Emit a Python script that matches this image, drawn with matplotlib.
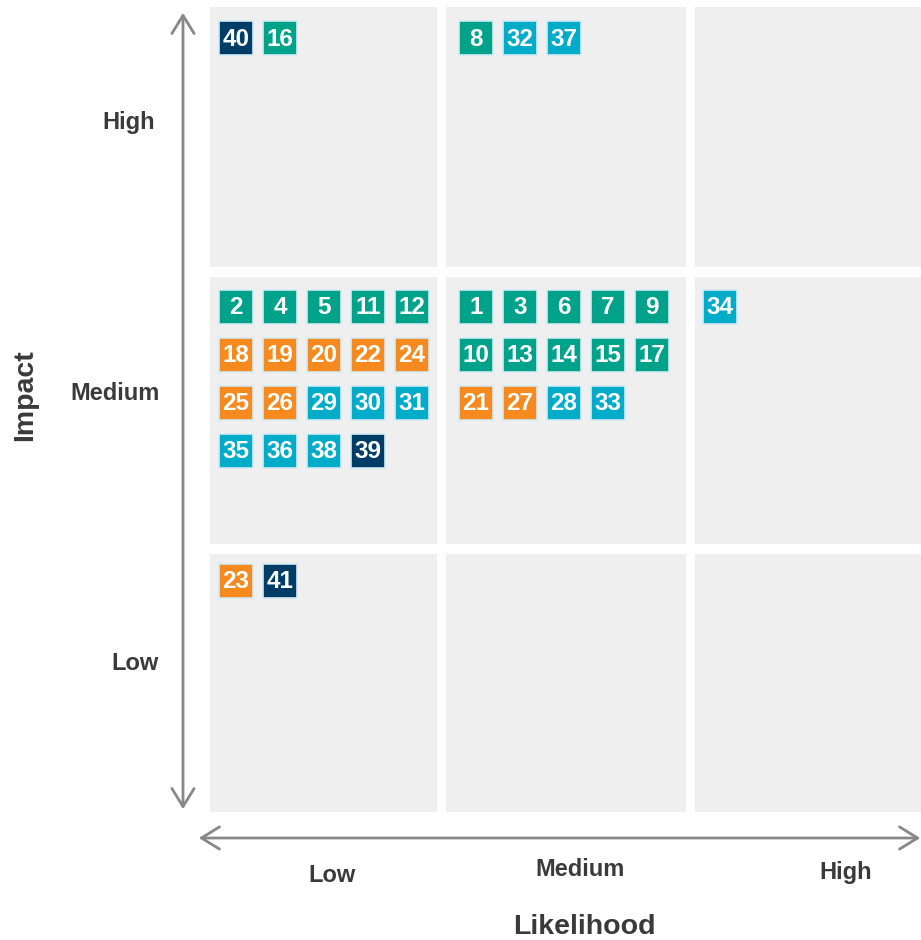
import matplotlib
matplotlib.use("Agg")
import matplotlib.pyplot as plt
from matplotlib.patches import Rectangle, FancyArrowPatch

plt.rcParams['font.family'] = ['Liberation Sans', 'DejaVu Sans']

# Axis levels
likelihood_levels = ["Low", "Medium", "High"]
impact_levels = ["Low", "Medium", "High"]

# Risks: id, likelihood index, impact index, category (listed in reading order per cell)
risk_ids = [40, 16,
            8, 32, 37,
            2, 4, 5, 11, 12, 18, 19, 20, 22, 24, 25, 26, 29, 30, 31, 35, 36, 38, 39,
            1, 3, 6, 7, 9, 10, 13, 14, 15, 17, 21, 27, 28, 33,
            34,
            23, 41]
risk_likelihood = [0, 0,
                   1, 1, 1,
                   0, 0, 0, 0, 0, 0, 0, 0, 0, 0, 0, 0, 0, 0, 0, 0, 0, 0, 0,
                   1, 1, 1, 1, 1, 1, 1, 1, 1, 1, 1, 1, 1, 1,
                   2,
                   0, 0]
risk_impact = [2, 2,
               2, 2, 2,
               1, 1, 1, 1, 1, 1, 1, 1, 1, 1, 1, 1, 1, 1, 1, 1, 1, 1, 1,
               1, 1, 1, 1, 1, 1, 1, 1, 1, 1, 1, 1, 1, 1,
               1,
               0, 0]
risk_category = ["navy", "teal",
                 "teal", "cyan", "cyan",
                 "teal", "teal", "teal", "teal", "teal",
                 "orange", "orange", "orange", "orange", "orange",
                 "orange", "orange", "cyan", "cyan", "cyan",
                 "cyan", "cyan", "cyan", "navy",
                 "teal", "teal", "teal", "teal", "teal",
                 "teal", "teal", "teal", "teal", "teal",
                 "orange", "orange", "cyan", "cyan",
                 "cyan",
                 "orange", "navy"]

category_colors = {"teal": "#00A28A", "orange": "#F68A1F",
                   "cyan": "#00ACC8", "navy": "#003D66"}

# Layout (pixel space of the figure)
W, H = 921, 940
col_x = [210, 446, 695]
col_w = [227, 240, 226]
row_y = {2: 7, 1: 277, 0: 554}
row_h = {2: 260, 1: 267, 0: 258}
cell_origin_x = [26, 30, 25]
cell_origin_y = {2: 31, 1: 30, 0: 27}
cell_color = "#EFEFEF"
badge = 34
pitch_x = 44
pitch_y = 48
per_row = 5

fig = plt.figure(figsize=(W / 100, H / 100), dpi=100)
ax = fig.add_axes([0, 0, 1, 1])
ax.set_xlim(0, W)
ax.set_ylim(H, 0)
ax.axis("off")

# Grid cells
for li in range(3):
    for ii in range(3):
        ax.add_patch(Rectangle((col_x[li], row_y[ii]), col_w[li], row_h[ii],
                               facecolor=cell_color, edgecolor="none", zorder=1))

# Badges
slot = {}
for rid, li, ii, cat in zip(risk_ids, risk_likelihood, risk_impact, risk_category):
    k = slot.get((li, ii), 0)
    slot[(li, ii)] = k + 1
    cx = col_x[li] + cell_origin_x[li] + (k % per_row) * pitch_x
    cy = row_y[ii] + cell_origin_y[ii] + (k // per_row) * pitch_y
    ax.add_patch(Rectangle((cx - badge / 2, cy - badge / 2), badge, badge,
                           facecolor=category_colors[cat], edgecolor="#D3EBF3",
                           linewidth=1.2, zorder=2))
    ax.text(cx, cy + 1, str(rid), color="white", fontsize=17.5, fontweight="bold",
            ha="center", va="center", zorder=3)

# Axis arrows
arrow_kw = dict(arrowstyle="<->,head_length=13,head_width=8", color="#888888",
                linewidth=2.0, mutation_scale=1, zorder=2)
ax.add_patch(FancyArrowPatch((183, 10), (183, 812), **arrow_kw))
ax.add_patch(FancyArrowPatch((196, 838), (923, 838), **arrow_kw))

# Level labels
label_kw = dict(color="#3A3A3A", fontsize=17, fontweight="bold", ha="center", va="center")
for ii, (x, y) in zip(range(3), [(135, 664), (115, 393), (129, 122)]):
    ax.text(x, y, impact_levels[ii], **label_kw)
for li, (x, y) in zip(range(3), [(332, 875), (580, 870), (846, 872)]):
    ax.text(x, y, likelihood_levels[li], **label_kw)

ax.text(584, 927, "Likelihood", color="#3A3A3A", fontsize=20.5, fontweight="bold",
        ha="center", va="center")
ax.text(25, 395, "Impact", color="#3A3A3A", fontsize=20.5, fontweight="bold",
        ha="center", va="center", rotation=90)

fig.savefig("out.png", dpi=100)
